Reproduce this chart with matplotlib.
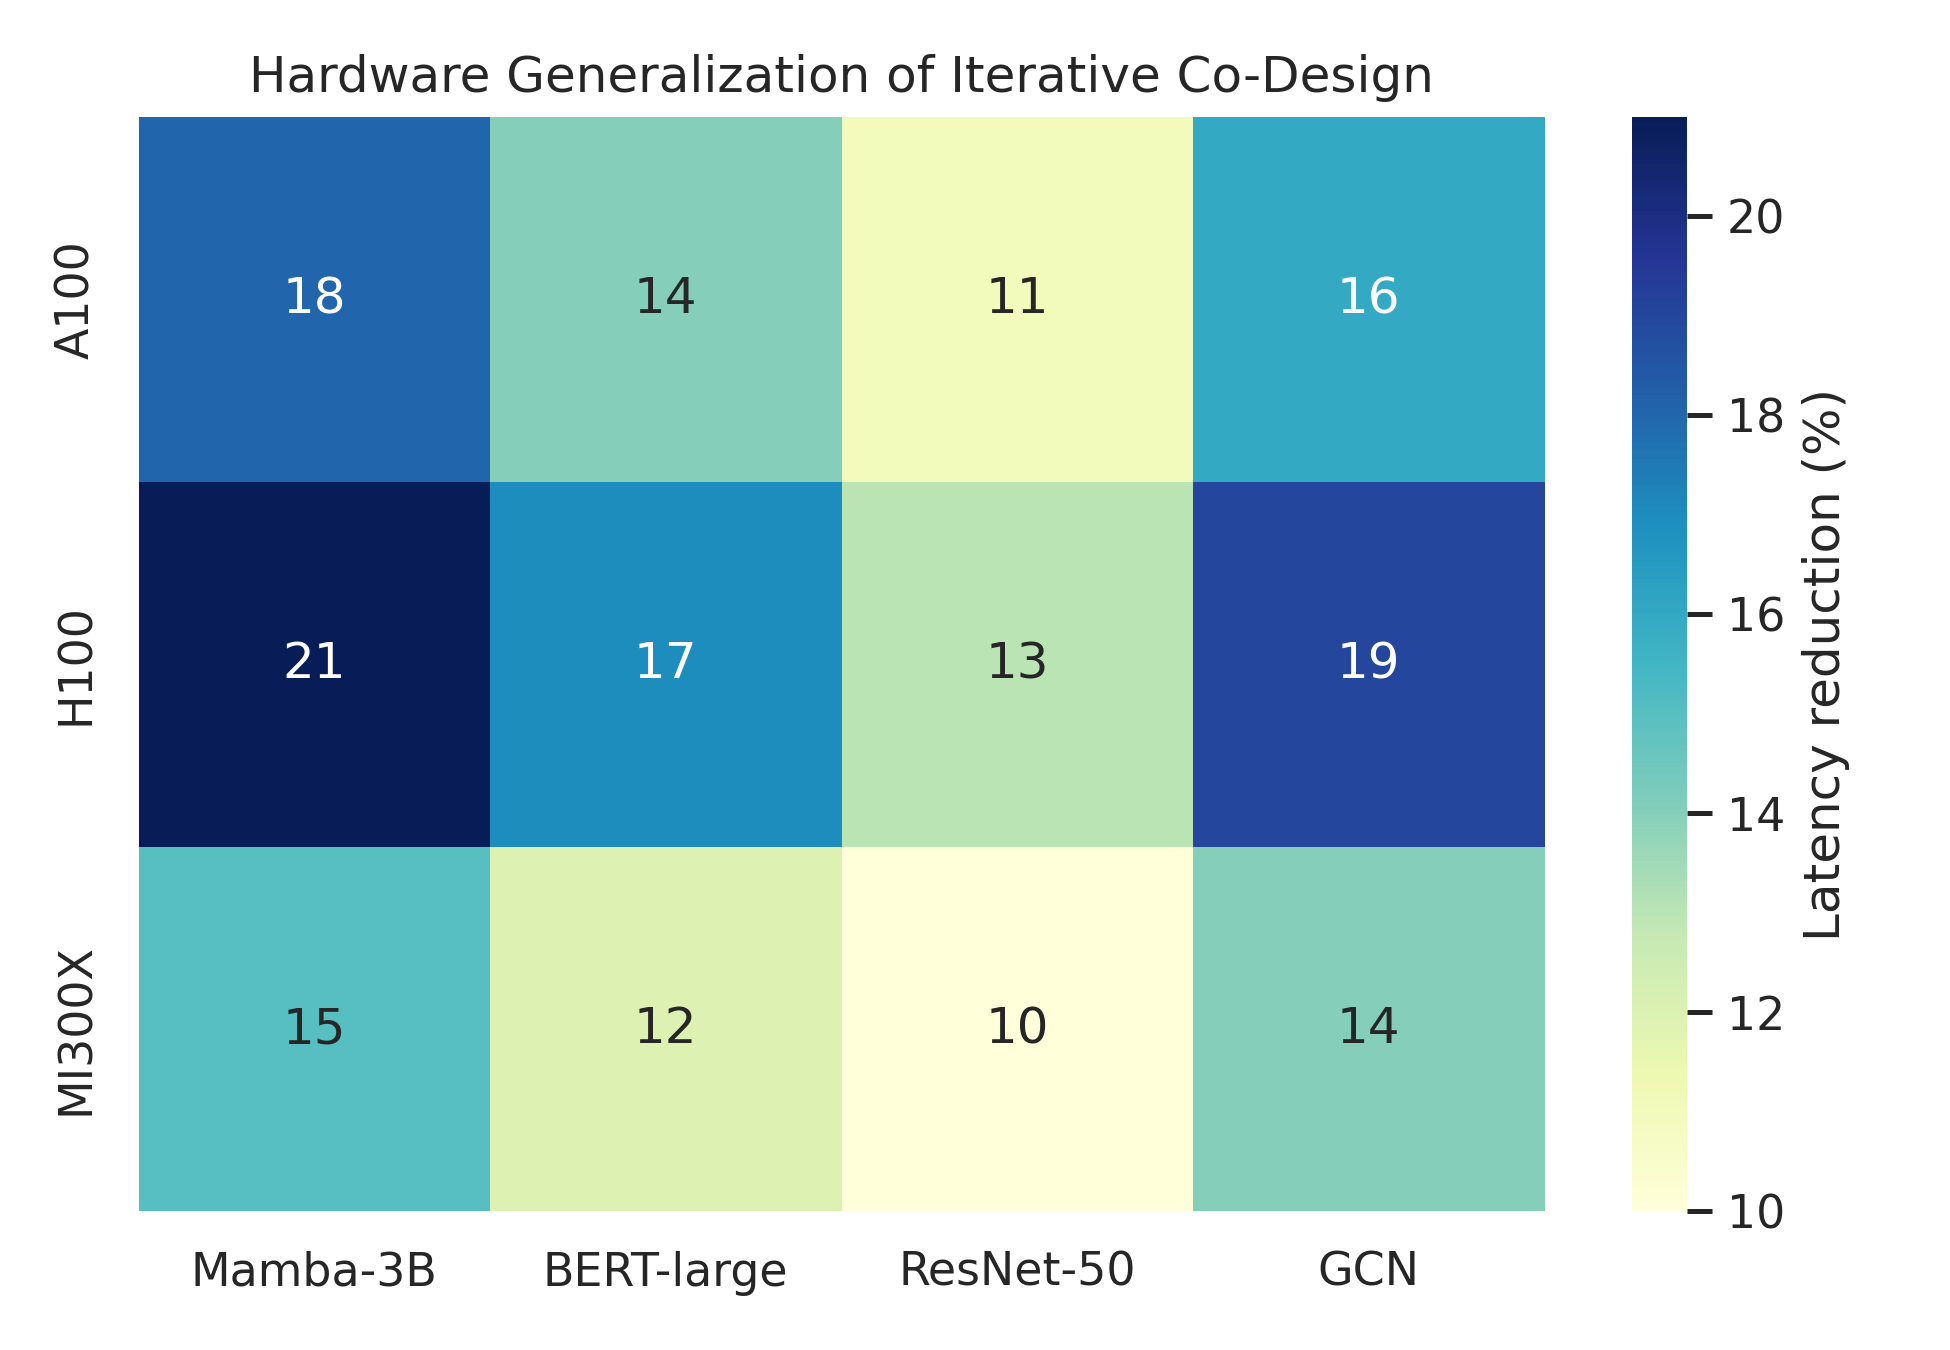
import matplotlib

matplotlib.use("Agg")
import matplotlib.pyplot as plt
import numpy as np
import seaborn as sns

hardware = ["A100", "H100", "MI300X"]
models = ["Mamba-3B", "BERT-large", "ResNet-50", "GCN"]
a100 = [18, 14, 11, 16]
h100 = [21, 17, 13, 19]
mi300x = [15, 12, 10, 14]

sns.set_theme(style="white")
data = np.array([a100, h100, mi300x])

fig, ax = plt.subplots(figsize=(6.5, 4.5), dpi=300)
sns.heatmap(
    data,
    annot=True,
    fmt="d",
    cmap="YlGnBu",
    xticklabels=models,
    yticklabels=hardware,
    cbar_kws={"label": "Latency reduction (%)"},
    ax=ax,
)
ax.set_title("Hardware Generalization of Iterative Co-Design")
cbar = ax.collections[0].colorbar
cbar.ax.tick_params(length=6, width=1.2)
plt.tight_layout()
fig.savefig("out.png")
